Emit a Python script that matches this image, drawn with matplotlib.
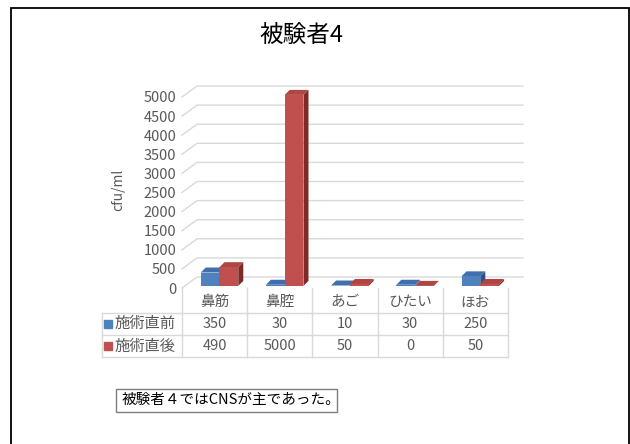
import numpy as np
import matplotlib
matplotlib.use('Agg')
import matplotlib.pyplot as plt
from matplotlib.patches import Polygon, Rectangle
import matplotlib.transforms as mtransforms

plt.rcParams['font.family'] = ['Noto Sans CJK JP', 'DejaVu Sans']

# ---- data ----
title = '被験者4'
categories = ['鼻筋', '鼻腔', 'あご', 'ひたい', 'ほお']
series_names = ['施術直前', '施術直後']
before = [350, 30, 10, 30, 250]
after = [490, 5000, 50, 0, 50]
y_ticks = np.arange(0, 5001, 500)
y_label = 'cfu/ml'
note = '被験者４ではCNSが主であった。'

# ---- style ----
front_cols = ['#4F81BD', '#C0504D']
top_cols = ['#3F70AD', '#B04643']
side_cols = ['#2D5283', '#7D2A28']
grid_col = '#D9D9D9'
text_col = '#595959'

W, H = 630, 444
fig = plt.figure(figsize=(W / 100, H / 100), dpi=100)

# outer frame of the chart area
fig.patches.append(Rectangle((10.5 / W, -0.01), 618.5 / W, (H - 8) / H + 0.01,
                             transform=fig.transFigure, fill=False,
                             edgecolor='black', lw=1.3))

# plotting area: category cells span 182..508 px, value 0..5000 spans 288..97 px
ax = fig.add_axes([182 / W, (H - 288) / H, 326 / W, 191 / H])
ax.set_xlim(0, 5)
ax.set_ylim(0, 5000)
for s in ax.spines.values():
    s.set_visible(False)
ax.set_xticks([])
ax.set_yticks(y_ticks)
ax.tick_params(axis='y', length=0, pad=4, labelsize=10.5, labelcolor=text_col)

# 3D wall offsets (data units)
wall_dx, wall_dy = 0.23, 288
for v in y_ticks:
    ax.plot([0, wall_dx, 5 + wall_dx], [v, v + wall_dy, v + wall_dy],
            color=grid_col, lw=1, zorder=1, clip_on=False)

# 3D bars
bar_w = 0.288
bar_dx, bar_dy = 0.077, 131
base = 55
offsets = [0.287, 0.575]
for si, vals in enumerate([before, after]):
    for i, v in enumerate(vals):
        x0 = i + offsets[si]
        x1 = x0 + bar_w
        y0, y1 = base, base + v
        front = Polygon([(x0, y0), (x1, y0), (x1, y1), (x0, y1)],
                        closed=True, facecolor=front_cols[si], edgecolor='none',
                        zorder=3 + i, clip_on=False)
        top = Polygon([(x0, y1), (x1, y1), (x1 + bar_dx, y1 + bar_dy),
                       (x0 + bar_dx, y1 + bar_dy)], closed=True,
                      facecolor=top_cols[si], edgecolor='none', zorder=3 + i,
                      clip_on=False)
        side = Polygon([(x1, y0), (x1 + bar_dx, y0 + bar_dy),
                        (x1 + bar_dx, y1 + bar_dy), (x1, y1)], closed=True,
                       facecolor=side_cols[si], edgecolor='none', zorder=3 + i,
                       clip_on=False)
        ax.add_patch(side)
        ax.add_patch(top)
        ax.add_patch(front)

ax.text(-0.196, 0.513, y_label, transform=ax.transAxes, rotation=90,
        ha='center', va='center', fontsize=10, color=text_col)

# data table below the plot (x in data units, y in axes fraction)
tr = mtransforms.blended_transform_factory(ax.transData, ax.transAxes)
row_lines = [-0.131, -0.246, -0.361]
left_x = -1.227
for i in range(6):
    ax.plot([i, i], [0, row_lines[-1]], transform=tr, color=grid_col,
            lw=1, clip_on=False)
ax.plot([left_x, left_x], [row_lines[0], row_lines[-1]], transform=tr,
        color=grid_col, lw=1, clip_on=False)
for yl in row_lines:
    ax.plot([left_x, 5], [yl, yl], transform=tr, color=grid_col, lw=1,
            clip_on=False)

for i, c in enumerate(categories):
    ax.text(i + 0.5, -0.075, c, transform=tr, ha='center', va='center',
            fontsize=10.5, color=text_col)

row_centers = [-0.188, -0.304]
for si, vals in enumerate([before, after]):
    yc = row_centers[si]
    ax.plot([-1.135], [yc], transform=tr, marker='s', ms=5.5,
            color=front_cols[si], clip_on=False, ls='none')
    ax.text(-1.04, yc, series_names[si], transform=tr, ha='left',
            va='center', fontsize=11, color=text_col)
    for i, v in enumerate(vals):
        ax.text(i + 0.5, yc, str(v), transform=tr, ha='center', va='center',
                fontsize=10.5, color=text_col)

fig.text(301 / W, 1 - 36 / H, title, ha='center', va='center', fontsize=17,
         color='black')

fig.text(122 / W, 1 - 400 / H, note, ha='left', va='center', fontsize=10.5,
         color='black')
fig.patches.append(Rectangle((116 / W, 1 - 412 / H), 221 / W, 23 / H,
                             transform=fig.transFigure, fill=False,
                             edgecolor='#7F7F7F', lw=1))

fig.savefig('out.png', dpi=100)
